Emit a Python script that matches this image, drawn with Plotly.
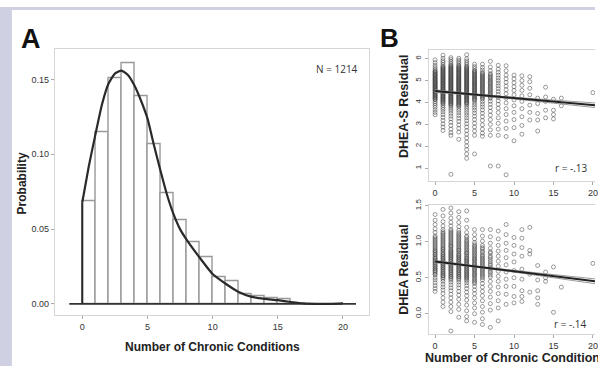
import plotly.graph_objects as go

W, H = 598, 366

# ---------------- Panel A data ----------------
hist_left = list(range(0, 16))
hist_prob = [0.069, 0.115, 0.151, 0.161, 0.139, 0.107, 0.074, 0.056, 0.041,
             0.031, 0.018, 0.015, 0.0066, 0.0052, 0.0039, 0.0033]
dens_x = [0, 0.5, 1, 1.5, 2, 2.5, 3, 3.5, 4, 4.5, 5, 5.5, 6, 6.5, 7, 7.5,
          8, 9, 10, 11, 12, 13, 14, 15, 16, 17, 18, 19, 20]
dens_y = [0.068, 0.092, 0.113, 0.133, 0.147, 0.154, 0.156, 0.153, 0.146,
          0.136, 0.124, 0.106, 0.089, 0.073, 0.060, 0.050, 0.043, 0.031, 0.020,
          0.0135, 0.008, 0.0047, 0.0034, 0.0025, 0.0013, 0.0003, 0.0, 0.0, 0.0003]
a_xticks = [0, 5, 10, 15, 20]
a_yticks = [0.0, 0.05, 0.10, 0.15]
n_label = "N = 1214"

# ---------------- Panel B data ----------------
dheas_cols = {
    0: [5.95, 5.82, 5.7, 5.61, 5.52, 5.45, 5.38, 5.3, 5.24, 5.17, 5.1, 5.04, 4.97, 4.91, 4.85, 4.78,
        4.72, 4.66, 4.6, 4.53, 4.47, 4.4, 4.33, 4.26, 4.19, 4.12, 4.04, 3.96, 3.87, 3.78, 3.66, 3.55, 3.44],
    1: [6.16, 6.02, 5.91, 5.83, 5.74, 5.66, 5.58, 5.51, 5.44, 5.37, 5.3, 5.23, 5.16, 5.1, 5.03, 4.97,
        4.9, 4.84, 4.77, 4.71, 4.64, 4.58, 4.51, 4.45, 4.38, 4.31, 4.24, 4.17, 4.1, 4.02, 3.94, 3.86,
        3.77, 3.68, 3.57, 3.45, 3.32, 3.18, 3.02, 2.88, 2.72],
    2: [6.05, 5.97, 5.88, 5.8, 5.72, 5.64, 5.57, 5.5, 5.43, 5.36, 5.29, 5.22, 5.16, 5.09, 5.03, 4.96,
        4.9, 4.83, 4.77, 4.7, 4.64, 4.57, 4.51, 4.44, 4.38, 4.31, 4.24, 4.17, 4.1, 4.03, 3.95, 3.87,
        3.79, 3.7, 3.61, 3.5, 3.38, 3.25, 3.1, 2.95, 2.78, 2.62, 2.5, 0.72],
    3: [6.02, 5.94, 5.86, 5.78, 5.7, 5.62, 5.55, 5.48, 5.41, 5.34, 5.27, 5.2, 5.13, 5.07, 5.0, 4.94,
        4.87, 4.81, 4.74, 4.68, 4.61, 4.55, 4.48, 4.41, 4.35, 4.28, 4.21, 4.14, 4.07, 3.99, 3.91, 3.83,
        3.74, 3.64, 3.53, 3.41, 3.28, 3.14, 2.98, 2.82, 2.65, 2.32],
    4: [6.18, 6.0, 5.9, 5.81, 5.73, 5.65, 5.57, 5.5, 5.42, 5.35, 5.28, 5.21, 5.14, 5.07, 5.0, 4.93,
        4.86, 4.79, 4.72, 4.65, 4.58, 4.51, 4.44, 4.37, 4.3, 4.23, 4.16, 4.08, 4.0, 3.92, 3.83, 3.74,
        3.64, 3.53, 3.42, 3.3, 3.17, 3.03, 2.88, 2.72, 2.55, 2.38, 2.2, 2.02, 1.85, 1.65, 1.45],
    5: [5.75, 5.64, 5.55, 5.46, 5.38, 5.3, 5.22, 5.14, 5.06, 4.98, 4.9, 4.83, 4.75, 4.67, 4.59, 4.51,
        4.43, 4.35, 4.26, 4.17, 4.08, 3.98, 3.88, 3.77, 3.65, 3.52, 3.38, 3.22, 3.05, 2.88, 2.7, 2.5, 1.65],
    6: [5.75, 5.6, 5.48, 5.37, 5.27, 5.18, 5.09, 5.0, 4.91, 4.82, 4.73, 4.64, 4.55, 4.46, 4.36, 4.26,
        4.15, 4.04, 3.92, 3.8, 3.66, 3.51, 3.35, 3.18, 2.98, 2.78, 2.6, 2.46],
    7: [5.88, 5.62, 5.45, 5.32, 5.2, 5.08, 4.97, 4.86, 4.75, 4.64, 4.53, 4.42, 4.31, 4.19, 4.06, 3.92,
        3.77, 3.6, 3.42, 3.22, 3.0, 2.75, 2.5, 1.1],
    8: [5.7, 5.52, 5.38, 5.25, 5.12, 5.0, 4.88, 4.76, 4.63, 4.5, 4.37, 4.23, 4.08, 3.92, 3.74, 3.54,
        3.3, 3.05, 2.78, 2.5, 1.1],
    9: [5.68, 5.45, 5.25, 5.08, 4.92, 4.75, 4.58, 4.4, 4.2, 3.98, 3.72, 3.45, 3.15, 2.82, 2.45, 0.7],
    10: [5.25, 5.08, 4.9, 4.72, 4.55, 4.35, 4.12, 3.85, 3.55, 3.22, 2.85, 2.25],
    11: [5.22, 5.0, 4.78, 4.55, 4.3, 4.05, 3.72, 3.35, 2.95, 2.55],
    12: [5.18, 4.95, 4.65, 4.35, 3.88, 3.55, 3.2],
    13: [4.2, 3.95, 3.5, 3.2, 2.7],
    14: [4.7, 4.25, 4.05, 3.65, 3.3],
    15: [4.15, 3.65, 3.45, 3.25],
    16: [4.2, 3.85],
    20: [4.45],
}
# extra overlapping observations in the dense cores of the columns
dheas_core = {
    0: [5.41, 5.34, 5.27, 5.21, 5.14, 5.07, 5.01, 4.94, 4.88, 4.81, 4.75, 4.69, 4.62, 4.56, 4.5,
        4.43, 4.36, 4.29, 4.22, 4.15],
    1: [5.62, 5.55, 5.47, 5.4, 5.33, 5.26, 5.2, 5.13, 5.06, 5.0, 4.93, 4.87, 4.8, 4.74, 4.67, 4.61,
        4.54, 4.48, 4.41, 4.34, 4.27, 4.2, 4.13, 4.06, 3.98],
    2: [5.68, 5.6, 5.53, 5.46, 5.39, 5.32, 5.25, 5.19, 5.12, 5.06, 4.99, 4.93, 4.86, 4.8, 4.73,
        4.67, 4.6, 4.54, 4.47, 4.41, 4.34, 4.27, 4.2, 4.13, 4.06, 3.99, 3.91],
    3: [5.66, 5.58, 5.51, 5.44, 5.37, 5.3, 5.23, 5.16, 5.1, 5.03, 4.97, 4.9, 4.84, 4.77, 4.71,
        4.64, 4.58, 4.51, 4.45, 4.38, 4.31, 4.24, 4.17, 4.1, 4.03, 3.95, 3.87],
    4: [5.61, 5.53, 5.46, 5.38, 5.31, 5.24, 5.17, 5.1, 5.03, 4.96, 4.89, 4.82, 4.75, 4.68, 4.61,
        4.54, 4.47, 4.4, 4.33, 4.26, 4.19, 4.12, 4.04, 3.96],
    5: [5.42, 5.34, 5.26, 5.18, 5.1, 5.02, 4.94, 4.86, 4.79, 4.71, 4.63, 4.55, 4.47, 4.39, 4.31,
        4.22, 4.13],
    6: [5.32, 5.22, 5.13, 5.04, 4.95, 4.86, 4.77, 4.68, 4.59, 4.5, 4.41, 4.31, 4.21],
    7: [5.26, 5.14, 5.02, 4.91, 4.8, 4.69, 4.58, 4.47, 4.36, 4.25],
}
dhea_cols = {
    0: [1.38, 1.3, 1.24, 1.18, 1.13, 1.08, 1.04, 1.0, 0.96, 0.92, 0.88, 0.85, 0.82, 0.78, 0.75, 0.72,
        0.69, 0.66, 0.63, 0.6, 0.57, 0.54, 0.5, 0.47, 0.43, 0.39, 0.35, 0.31],
    1: [1.45, 1.36, 1.28, 1.22, 1.17, 1.12, 1.08, 1.04, 1.0, 0.96, 0.92, 0.89, 0.85, 0.82, 0.79, 0.76,
        0.73, 0.7, 0.67, 0.64, 0.61, 0.58, 0.55, 0.52, 0.48, 0.45, 0.41, 0.37, 0.33, 0.28, 0.22, 0.16, 0.1],
    2: [1.47, 1.4, 1.33, 1.27, 1.22, 1.17, 1.13, 1.09, 1.05, 1.01, 0.97, 0.94, 0.9, 0.87, 0.84, 0.81,
        0.78, 0.75, 0.72, 0.69, 0.66, 0.63, 0.6, 0.57, 0.54, 0.51, 0.47, 0.44, 0.4, 0.36, 0.32, 0.27,
        0.22, 0.16, 0.1, 0.03, -0.24],
    3: [1.42, 1.34, 1.27, 1.21, 1.16, 1.11, 1.07, 1.03, 0.99, 0.95, 0.91, 0.88, 0.84, 0.81, 0.78, 0.75,
        0.72, 0.69, 0.66, 0.63, 0.6, 0.57, 0.54, 0.51, 0.47, 0.44, 0.4, 0.36, 0.31, 0.26, 0.2, 0.13,
        0.06, -0.05],
    4: [1.43, 1.3, 1.2, 1.13, 1.08, 1.03, 0.99, 0.95, 0.91, 0.87, 0.84, 0.8, 0.77, 0.74, 0.71, 0.68,
        0.65, 0.62, 0.59, 0.56, 0.53, 0.5, 0.46, 0.43, 0.39, 0.35, 0.3, 0.25, 0.19, 0.12, 0.04, -0.04, -0.1],
    5: [1.17, 1.1, 1.04, 0.99, 0.94, 0.9, 0.86, 0.82, 0.78, 0.75, 0.71, 0.68, 0.64, 0.61, 0.57, 0.54,
        0.5, 0.46, 0.42, 0.38, 0.33, 0.28, 0.22, 0.15, 0.08, 0.0, -0.12],
    6: [1.17, 1.08, 1.01, 0.95, 0.9, 0.85, 0.8, 0.76, 0.72, 0.68, 0.64, 0.6, 0.56, 0.52, 0.47, 0.42,
        0.37, 0.31, 0.25, 0.18, 0.1, 0.02, -0.07, -0.15],
    7: [1.17, 1.07, 0.98, 0.91, 0.84, 0.78, 0.72, 0.67, 0.62, 0.57, 0.51, 0.45, 0.38, 0.31, 0.23, 0.14,
        0.05, -0.19],
    8: [1.15, 1.04, 0.95, 0.87, 0.8, 0.73, 0.66, 0.59, 0.52, 0.45, 0.37, 0.28, 0.18, 0.08, -0.1],
    9: [1.24, 1.1, 0.98, 0.88, 0.78, 0.68, 0.58, 0.48, 0.38, 0.27, 0.13],
    10: [1.06, 0.95, 0.83, 0.72, 0.6, 0.5, 0.38, 0.24, 0.15],
    11: [1.17, 1.05, 0.92, 0.8, 0.62, 0.48, 0.32, 0.24, 0.17],
    12: [1.2, 0.88, 0.83, 0.55, 0.3],
    13: [0.67, 0.47, 0.32, 0.22, 0.13],
    14: [0.58, 0.5, 0.45],
    15: [0.65, 0.02],
    16: [0.37],
    20: [0.7],
}
dhea_core = {
    0: [1.06, 1.02, 0.98, 0.94, 0.9, 0.87, 0.83, 0.8, 0.77, 0.74, 0.71, 0.68, 0.65, 0.62, 0.59, 0.55],
    1: [1.14, 1.1, 1.06, 1.02, 0.98, 0.94, 0.9, 0.87, 0.83, 0.8, 0.77, 0.74, 0.71, 0.68, 0.65, 0.62,
        0.59, 0.56, 0.53, 0.5],
    2: [1.15, 1.11, 1.07, 1.03, 0.99, 0.95, 0.92, 0.88, 0.85, 0.82, 0.79, 0.76, 0.73, 0.7, 0.67,
        0.64, 0.61, 0.58, 0.55, 0.52, 0.49],
    3: [1.13, 1.09, 1.05, 1.01, 0.97, 0.93, 0.89, 0.86, 0.82, 0.79, 0.76, 0.73, 0.7, 0.67, 0.64,
        0.61, 0.58, 0.55, 0.52, 0.49],
    4: [1.06, 1.01, 0.97, 0.93, 0.89, 0.85, 0.82, 0.78, 0.75, 0.72, 0.69, 0.66, 0.63, 0.6, 0.57,
        0.54, 0.51, 0.48],
    5: [0.96, 0.92, 0.88, 0.84, 0.8, 0.76, 0.73, 0.69, 0.66, 0.62, 0.59, 0.55, 0.52, 0.48, 0.44],
    6: [0.92, 0.87, 0.82, 0.78, 0.74, 0.7, 0.66, 0.62, 0.58, 0.54, 0.5],
    7: [0.86, 0.8, 0.75, 0.69, 0.64, 0.59, 0.54],
}
# fitted regression lines and confidence half-widths
fit_x = [0, 5, 10, 15, 21]
dheas_fit = [4.52, 4.36, 4.20, 4.04, 3.85]
dheas_ci = [0.06, 0.03, 0.04, 0.07, 0.11]
dhea_fit = [0.725, 0.657, 0.590, 0.522, 0.441]
dhea_ci = [0.016, 0.009, 0.012, 0.022, 0.035]
dheas_yticks = [1, 2, 3, 4, 5, 6]
dhea_yticks = [0.0, 0.5, 1.0, 1.5]
b_xticks = [0, 5, 10, 15, 20]
r_top = "r = -.13"
r_bot = "r = -.14"

FONT = "Liberation Sans, Arial, sans-serif"
PT_COLOR = "rgba(60,60,60,0.5)"

fig = go.Figure()

# ---- Panel A: histogram ----
fig.add_trace(go.Bar(
    x=[v + 0.5 for v in hist_left], y=hist_prob, width=1.0,
    marker=dict(color="white", line=dict(color="#999999", width=1.4)),
    xaxis="x", yaxis="y", showlegend=False, hoverinfo="skip"))
fig.add_trace(go.Scatter(
    x=[-1, 21], y=[0, 0], mode="lines", line=dict(color="#333", width=1.6),
    xaxis="x", yaxis="y", showlegend=False, hoverinfo="skip"))
fig.add_trace(go.Scatter(
    x=[dens_x[0], dens_x[0]], y=[0, dens_y[0]], mode="lines", line=dict(color="#2a2a2a", width=2),
    xaxis="x", yaxis="y", showlegend=False, hoverinfo="skip"))
fig.add_trace(go.Scatter(
    x=dens_x, y=dens_y, mode="lines", line=dict(color="#2a2a2a", width=2.2, shape="spline", smoothing=0.5),
    xaxis="x", yaxis="y", showlegend=False, hoverinfo="skip"))


def scatter_panel(cols, core, fit, ci, xa, ya):
    xs, ys = [], []
    for d in (cols, core):
        for k, vals in d.items():
            for v in vals:
                xs.append(k)
                ys.append(v)
    fig.add_trace(go.Scatter(
        x=xs, y=ys, mode="markers",
        marker=dict(symbol="circle-open", size=4, color=PT_COLOR, line=dict(width=1, color=PT_COLOR)),
        xaxis=xa, yaxis=ya, showlegend=False, hoverinfo="skip"))
    for sgn in (1, -1):
        fig.add_trace(go.Scatter(
            x=fit_x, y=[f + sgn * c for f, c in zip(fit, ci)], mode="lines",
            line=dict(color="#9a9a9a", width=1, shape="spline"),
            xaxis=xa, yaxis=ya, showlegend=False, hoverinfo="skip"))
    fig.add_trace(go.Scatter(
        x=fit_x, y=fit, mode="lines", line=dict(color="#222", width=2),
        xaxis=xa, yaxis=ya, showlegend=False, hoverinfo="skip"))


scatter_panel(dheas_cols, dheas_core, dheas_fit, dheas_ci, "x2", "y2")
scatter_panel(dhea_cols, dhea_core, dhea_fit, dhea_ci, "x3", "y3")

tickfont = dict(family=FONT, size=9, color="#333")
frame = "#d6d6d6"

fig.update_layout(
    width=W, height=H, margin=dict(l=0, r=0, t=0, b=0),
    paper_bgcolor="white", plot_bgcolor="white", bargap=0,
    xaxis=dict(domain=[55 / W, 371 / W], range=[-2.115, 22.008], tickvals=a_xticks,
               showgrid=False, zeroline=False, showline=True, mirror=True, linecolor=frame,
               ticks="outside", ticklen=3, tickcolor="#aaa", tickfont=tickfont, anchor="y"),
    yaxis=dict(domain=[(H - 314.3) / H, (H - 43) / H], range=[-0.0076, 0.1703], tickvals=a_yticks,
               tickformat=".2f", showgrid=False, zeroline=False, showline=True, mirror=True,
               linecolor=frame, ticks="outside", ticklen=3, tickcolor="#aaa", tickfont=tickfont,
               anchor="x"),
    xaxis2=dict(domain=[430.7 / W, 1.0], range=[-0.832, 20.265], tickvals=b_xticks,
                showgrid=False, zeroline=False, showline=True, mirror=True, linecolor=frame,
                ticks="outside", ticklen=3, tickcolor="#aaa", tickfont=tickfont, anchor="y2",
                ticklabeloverflow="allow"),
    yaxis2=dict(domain=[(H - 177.3) / H, (H - 44) / H], range=[0.42, 6.39], tickvals=dheas_yticks,
                tickangle=-90, showgrid=False, zeroline=False, showline=True, linecolor=frame,
                ticks="outside", ticklen=3, tickcolor="#aaa", tickfont=dict(family=FONT, size=8, color="#333"),
                anchor="x2"),
    xaxis3=dict(domain=[430.7 / W, 1.0], range=[-0.832, 20.265], tickvals=b_xticks,
                showgrid=False, zeroline=False, showline=True, mirror=True, linecolor=frame,
                ticks="outside", ticklen=3, tickcolor="#aaa", tickfont=tickfont, anchor="y3",
                ticklabeloverflow="allow"),
    yaxis3=dict(domain=[(H - 333.5) / H, (H - 202) / H], range=[-0.284, 1.51], tickvals=dhea_yticks,
                tickformat=".1f", tickangle=-90, showgrid=False, zeroline=False, showline=True,
                linecolor=frame, ticks="outside", ticklen=3, tickcolor="#aaa",
                tickfont=dict(family=FONT, size=8, color="#333"), anchor="x3"),
)

# lavender border of the figure page
lav = "#cfd1e2"
fig.add_shape(type="rect", xref="paper", yref="paper", x0=0, x1=12 / W, y0=0, y1=1,
              fillcolor=lav, line=dict(width=0), layer="below")
fig.add_shape(type="rect", xref="paper", yref="paper", x0=0, x1=1, y0=1 - 3 / H, y1=1,
              fillcolor=lav, line=dict(width=0), layer="below")


def ann(text, px, py, size, bold=False, angle=0, xanchor="center", color="#111", family=FONT):
    fig.add_annotation(
        text=f"<b>{text}</b>" if bold else text, xref="paper", yref="paper",
        x=px / W, y=1 - py / H, xanchor=xanchor, yanchor="middle", showarrow=False,
        textangle=angle, font=dict(family=family, size=size, color=color))


ann("A", 31, 33, 27, bold=True)
ann("B", 391, 32, 26, bold=True)
ann("Probability", 22, 180, 12, bold=True, angle=-90, color="#222")
ann("Number of Chronic Conditions", 214, 347, 12, bold=True, color="#222")
ann(n_label, 362, 63, 10, xanchor="right", color="#333", family="Open Sans, sans-serif")
ann("DHEA-S Residual", 406, 101, 12.5, bold=True, angle=-90, color="#222")
ann("DHEA Residual", 406, 267, 12.5, bold=True, angle=-90, color="#222")
ann("Number of Chronic Conditions", 425, 358, 12.5, bold=True, xanchor="left", color="#222")
ann(r_top, 556, 164, 10, xanchor="left", color="#333", family="Open Sans, sans-serif")
ann(r_bot, 555, 323, 10, xanchor="left", color="#333", family="Open Sans, sans-serif")

fig.write_html(
    "out.html",
    config={"displayModeBar": False},
    post_script="document.documentElement.style.margin='0';document.body.style.margin='0';"
                "document.body.style.overflow='hidden';",
)
